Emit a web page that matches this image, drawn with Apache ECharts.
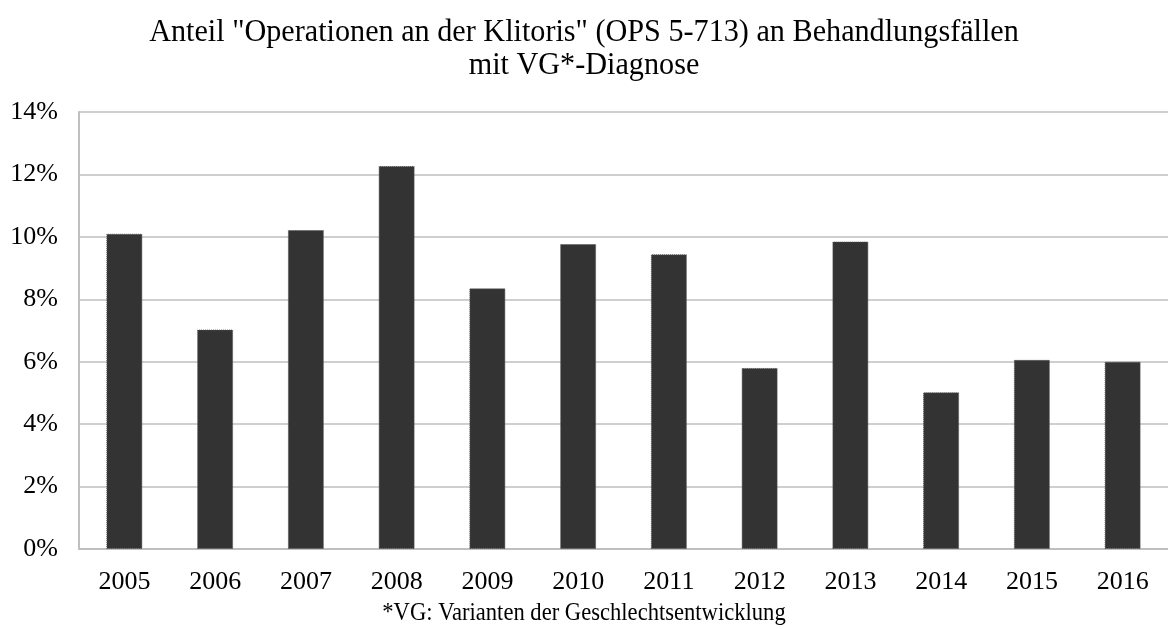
<!DOCTYPE html>
<html>
<head>
<meta charset="utf-8">
<script src="https://cdn.jsdelivr.net/npm/echarts@6/dist/echarts.min.js"></script>
<style>
    html, body {margin: 0; padding: 0; background: #fff;}
    #chart {width: 1168px; height: 629px;}
</style>
</head>
<body>
<div id="chart"></div>
<script>
// years on the x axis
const years = ['2005', '2006', '2007', '2008', '2009', '2010', '2011', '2012', '2013', '2014', '2015', '2016'];
// share of cases, in percent
const shares = [10.1, 7.03, 10.22, 12.27, 8.35, 9.77, 9.44, 5.8, 9.85, 5.02, 6.06, 6.0];

const titleLines = ['Anteil "Operationen an der Klitoris" (OPS 5-713) an Behandlungsfällen', 'mit VG*-Diagnose'];
const footnote = '*VG: Varianten der Geschlechtsentwicklung';

const serif = '"Liberation Serif", "DejaVu Serif", serif';
const gridGray = '#bfbfbf';

const chart = echarts.init(document.getElementById('chart'), null, {renderer: 'canvas'});

// the original texts look a bit stretched vertically, hence scaleY
const stretchedText = (text, y, size, scaleY) => ({
    type: 'text',
    x: 584,
    y: y,
    scaleY: scaleY,
    style: {text: text, font: size + 'px ' + serif, fill: '#000', align: 'center', verticalAlign: 'middle'}
});

chart.setOption({
    backgroundColor: '#fff',
    animation: false,
    graphic: [
        stretchedText(titleLines[0], 32, 30.2, 1.08),
        stretchedText(titleLines[1], 65, 30.2, 1.08),
        stretchedText(footnote, 613, 22.6, 1.12)
    ],
    grid: {left: 79, right: -3, top: 112, bottom: 80, containLabel: false},
    xAxis: {
        type: 'category',
        data: years,
        axisLine: {show: true, lineStyle: {color: gridGray, width: 2}},
        axisTick: {show: false},
        axisLabel: {fontFamily: serif, fontSize: 26, color: '#000', margin: 20}
    },
    yAxis: {
        type: 'value',
        min: 0,
        max: 14,
        interval: 2,
        axisLine: {show: true, lineStyle: {color: gridGray, width: 2}},
        axisTick: {show: false},
        splitLine: {lineStyle: {color: gridGray, width: 1.5}},
        axisLabel: {fontFamily: serif, fontSize: 26, color: '#000', margin: 21, formatter: '{value}%'}
    },
    series: [{
        type: 'bar',
        data: shares,
        barWidth: 36,
        itemStyle: {color: '#333333', borderColor: '#555', borderWidth: 1, borderType: 'dotted'}
    }]
});
</script>
</body>
</html>
